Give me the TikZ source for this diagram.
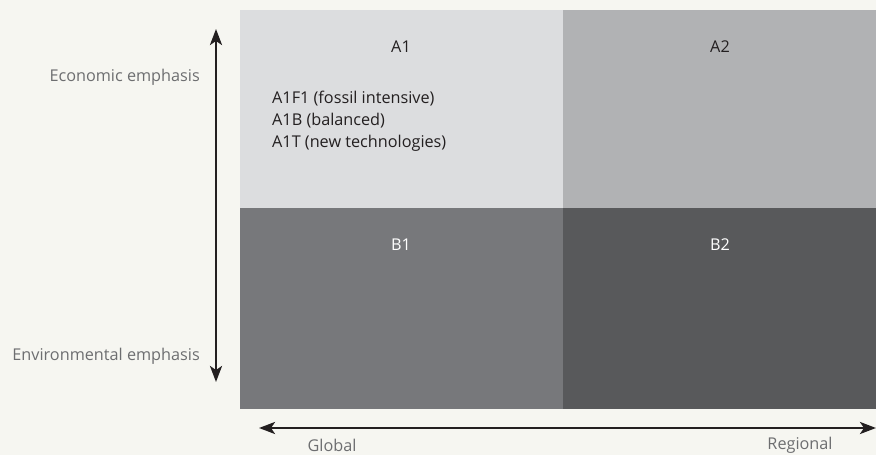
\documentclass[tikz,border=0pt]{standalone}
\usepackage{fontspec}
\setmainfont{Open Sans}
\usetikzlibrary{arrows.meta}
\definecolor{paper}{HTML}{F6F6F1}
\definecolor{qa1}{HTML}{DCDDDF}
\definecolor{qa2}{HTML}{B1B2B4}
\definecolor{qb1}{HTML}{77787B}
\definecolor{qb2}{HTML}{58595B}
\definecolor{ink}{HTML}{231F20}
\definecolor{side}{HTML}{6D6E70}

\begin{document}
\begin{tikzpicture}[x=1bp,y=-1bp,
  quad/.style={draw=none, minimum width=323bp, minimum height=198bp, inner sep=0pt, anchor=north west},
  lbl/.style={font=\fontsize{16.3}{22}\selectfont},
  axis/.style={ink, line width=2.5bp, {Stealth[length=16bp,width=12bp,inset=4bp]}-{Stealth[length=16bp,width=12bp,inset=4bp]}}]
\useasboundingbox[fill=paper] (0,0) rectangle (876,455);

% the four scenario families
\node[quad, fill=qa1] (A1) at (240,10) {};
\node[quad, fill=qa2, minimum width=313bp] (A2) at (563,10) {};
\node[quad, fill=qb1, minimum height=201bp] (B1) at (240,208) {};
\node[quad, fill=qb2, minimum width=313bp, minimum height=201bp] (B2) at (563,208) {};

\node[lbl, ink] (tA1) at (401,47) {A1};
\node[lbl, ink] (tA2) at (720,47) {A2};
\node[lbl, white] (tB1) at (401,245) {B1};
\node[lbl, white] (tB2) at (720,245) {B2};

\node[lbl, ink, align=left, anchor=west, inner sep=0pt] (list) at (272,121)
  {A1F1 (fossil intensive)\\A1B (balanced)\\A1T (new technologies)};

% axes
\coordinate (top) at (216,29);
\coordinate (bot) at (216,382);
\coordinate (lft) at (259,428);
\coordinate (rgt) at (876,428);
\draw[axis] (bot) -- (top);
\draw[axis] (lft) -- (rgt);

\node[lbl, side, anchor=east, inner sep=0pt] (econ) at (200,77) {Economic emphasis};
\node[lbl, side, anchor=east, inner sep=0pt] (env) at (200,356) {Environmental emphasis};
\node[lbl, side] (glob) at (332,445) {Global};
\node[lbl, side] (reg) at (800,445) {Regional};

\end{tikzpicture}
\end{document}
